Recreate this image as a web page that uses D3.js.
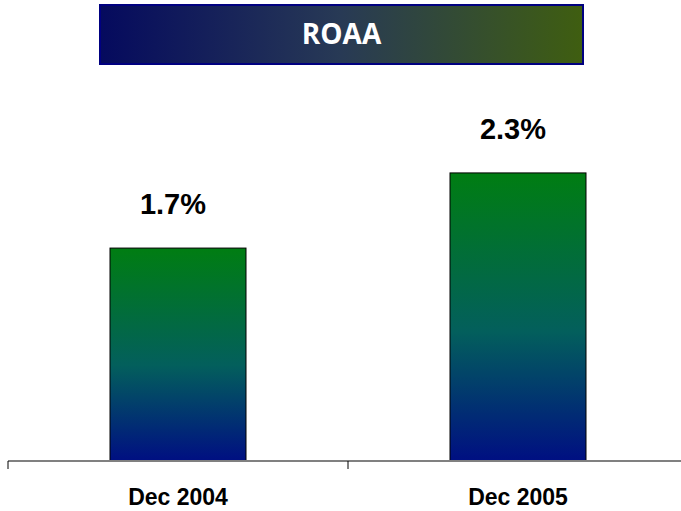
<!DOCTYPE html>
<html>
<head>
<meta charset="utf-8">
<script src="https://cdn.jsdelivr.net/npm/d3@7"></script>
<style>
  body { margin: 0; background: #fff; }
  svg { display: block; }
</style>
</head>
<body>
<svg></svg>
<script>
const width = 681
const height = 511

const categories = ['Dec 2004', 'Dec 2005']
const roaa = [1.7, 2.3]
const title = 'ROAA'

const svg = d3.select('svg')
    .attr('width', width)
    .attr('height', height)

const defs = svg.append('defs')

const barGrad = defs.append('linearGradient')
    .attr('id', 'barGrad')
    .attr('x1', 0).attr('y1', 0)
    .attr('x2', 0).attr('y2', 1)
barGrad.append('stop').attr('offset', '0%').attr('stop-color', '#007d12')
barGrad.append('stop').attr('offset', '55%').attr('stop-color', '#035f5c')
barGrad.append('stop').attr('offset', '100%').attr('stop-color', '#000f82')

const titleGrad = defs.append('linearGradient')
    .attr('id', 'titleGrad')
    .attr('x1', 0).attr('y1', 0)
    .attr('x2', 1).attr('y2', 0)
titleGrad.append('stop').attr('offset', '0%').attr('stop-color', '#050a5e')
titleGrad.append('stop').attr('offset', '50%').attr('stop-color', '#283a55')
titleGrad.append('stop').attr('offset', '100%').attr('stop-color', '#3f5e10')

// title banner
svg.append('rect')
    .attr('x', 100).attr('y', 5)
    .attr('width', 483).attr('height', 59)
    .attr('fill', 'url(#titleGrad)')
    .attr('stroke', '#000080')
    .attr('stroke-width', 2)

svg.append('text')
    .attr('x', 341.5).attr('y', 44)
    .attr('text-anchor', 'middle')
    .attr('font-family', 'Open Sans')
    .attr('font-weight', 'bold')
    .attr('font-size', 28)
    .attr('fill', '#fff')
    .text(title)

// scales
const baseY = 461
const x = d3.scaleBand()
    .domain(categories)
    .range([8, 688])
    .padding(0)

const y = d3.scaleLinear()
    .domain([0, 3])
    .range([baseY, baseY - 375.75])

const barW = x.bandwidth() * 0.4

svg.selectAll('rect.bar')
    .data(roaa)
    .enter()
    .append('rect')
    .attr('class', 'bar')
    .attr('x', (d, i) => x(categories[i]) + (x.bandwidth() - barW) / 2)
    .attr('y', d => y(d))
    .attr('width', barW)
    .attr('height', d => baseY - y(d))
    .attr('fill', 'url(#barGrad)')
    .attr('stroke', '#000')
    .attr('stroke-width', 1)

svg.selectAll('text.val')
    .data(roaa)
    .enter()
    .append('text')
    .attr('class', 'val')
    .attr('x', (d, i) => x(categories[i]) + x.bandwidth() / 2 - 5)
    .attr('y', d => y(d) - 34)
    .attr('text-anchor', 'middle')
    .attr('font-family', 'Liberation Sans, Arial, sans-serif')
    .attr('font-weight', 'bold')
    .attr('font-size', 29)
    .attr('fill', '#000')
    .text(d => d.toFixed(1) + '%')

// x axis
const axis = svg.append('g')
    .attr('transform', `translate(0,${baseY})`)

axis.append('line')
    .attr('x1', 8).attr('x2', 688)
    .attr('stroke', '#808080')
    .attr('stroke-width', 2)

axis.selectAll('line.tick')
    .data(x.domain().concat([null]))
    .enter()
    .append('line')
    .attr('class', 'tick')
    .attr('x1', d => d === null ? 688 : x(d))
    .attr('x2', d => d === null ? 688 : x(d))
    .attr('y1', 0).attr('y2', 8)
    .attr('stroke', '#000')
    .attr('stroke-width', 1)

axis.selectAll('text.cat')
    .data(categories)
    .enter()
    .append('text')
    .attr('class', 'cat')
    .attr('x', d => x(d) + x.bandwidth() / 2)
    .attr('y', 44)
    .attr('text-anchor', 'middle')
    .attr('font-family', 'Liberation Sans, Arial, sans-serif')
    .attr('font-weight', 'bold')
    .attr('font-size', 23)
    .attr('fill', '#000')
    .text(d => d)
</script>
</body>
</html>
